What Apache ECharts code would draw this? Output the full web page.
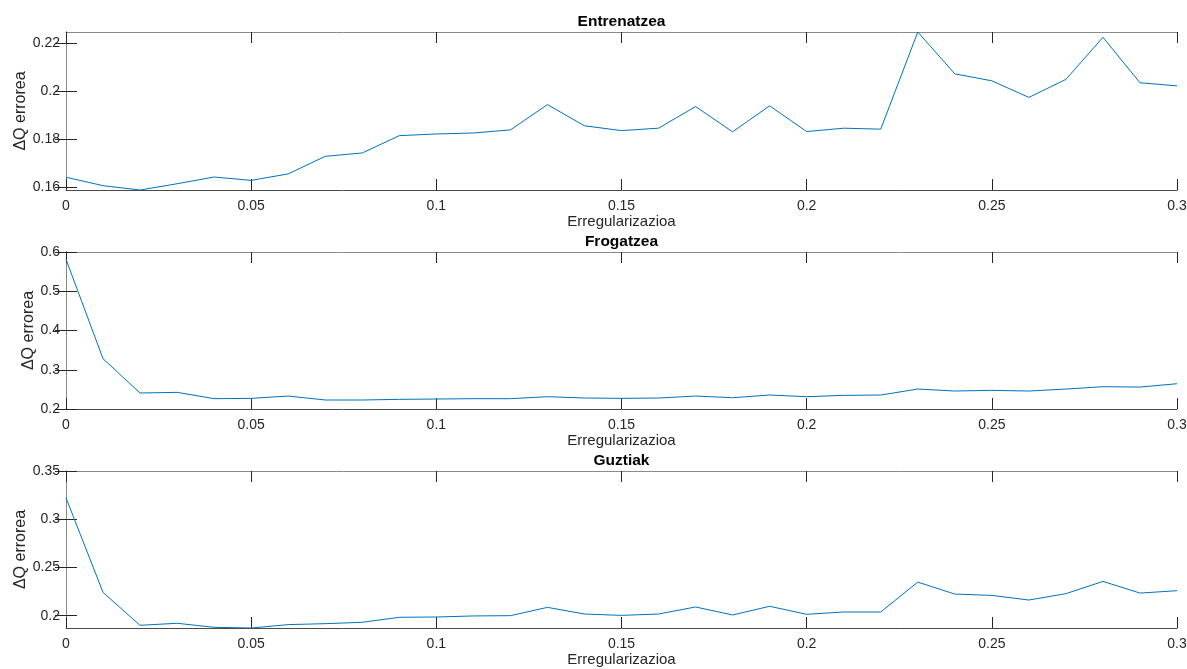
<!DOCTYPE html>
<html>
<head>
<meta charset="utf-8">
<script src="https://cdn.jsdelivr.net/npm/echarts@6/dist/echarts.min.js"></script>
<style>html,body{margin:0;padding:0;background:#fff}#c{width:1187px;height:669px}</style>
</head>
<body>
<div id="c"></div>
<script>
const xValues = [0,0.01,0.02,0.03,0.04,0.05,0.06,0.07,0.08,0.09,0.10,0.11,0.12,0.13,0.14,0.15,0.16,0.17,0.18,0.19,0.20,0.21,0.22,0.23,0.24,0.25,0.26,0.27,0.28,0.29,0.30];
const entrenatzea = [0.1642,0.1607,0.1589,0.1615,0.1643,0.1629,0.1656,0.1729,0.1743,0.1815,0.1822,0.1826,0.1839,0.1944,0.1856,0.1836,0.1846,0.1936,0.1831,0.1939,0.1832,0.1846,0.1842,0.2246,0.2072,0.2043,0.1974,0.2049,0.2224,0.2035,0.2022];
const frogatzea = [0.5814,0.328,0.2407,0.2424,0.2263,0.2271,0.233,0.2229,0.2229,0.2246,0.2254,0.2263,0.2263,0.2314,0.228,0.2271,0.228,0.233,0.2288,0.2356,0.2314,0.2347,0.2356,0.2508,0.2458,0.2475,0.2458,0.2508,0.2568,0.2559,0.2644];
const guztiak = [0.3221,0.2241,0.19,0.1921,0.1879,0.1872,0.1907,0.1917,0.1931,0.1983,0.1986,0.1997,0.2,0.2086,0.2017,0.2003,0.2017,0.209,0.2007,0.2097,0.2014,0.2038,0.2038,0.2348,0.2224,0.221,0.2162,0.2228,0.2355,0.2234,0.2259];
const xTicks = [0,0.05,0.1,0.15,0.2,0.25,0.3];
const yTicks1 = [0.16,0.18,0.2,0.22];
const yTicks2 = [0.2,0.3,0.4,0.5,0.6];
const yTicks3 = [0.2,0.25,0.3,0.35];
const titles = ['Entrenatzea','Frogatzea','Guztiak'];
const xName = 'Erregularizazioa';
const yName = 'ΔQ errorea';

const FONT = '"Liberation Sans", Arial, sans-serif';
const panels = [
  {data: entrenatzea, ticks: yTicks1, min: Math.min(...entrenatzea), max: Math.max(...entrenatzea), top: 32, h: 158, gap: 37, titleTop: 14},
  {data: frogatzea, ticks: yTicks2, min: 0.2, max: 0.6, top: 252, h: 157, gap: 29, titleTop: 234},
  {data: guztiak, ticks: yTicks3, min: Math.min(...guztiak), max: 0.35, top: 471, h: 157, gap: 37, titleTop: 453}
];
const mainLine = '#4a4a4a', boxLine = '#8a8a8a', tickCol = '#262626', txtCol = '#262626';
const grid = [], xAxis = [], yAxis = [], series = [], title = [];
panels.forEach((p, i) => {
  grid.push({left: 66, right: 10, top: p.top, height: p.h, containLabel: false, outerBoundsMode: 'none'});
  title.push({text: titles[i], left: 621.5, top: p.titleTop, textAlign: 'center', padding: 0,
    textStyle: {fontFamily: FONT, fontSize: 15.5, fontWeight: 'bold', color: '#000'}});
  const fmt = v => String(+v.toFixed(4));
  xAxis.push({type: 'value', gridIndex: i, min: 0, max: 0.3, position: 'bottom',
    name: xName, nameLocation: 'middle', nameGap: 24, nameMoveOverlap: false,
    nameTextStyle: {fontFamily: FONT, fontSize: 15, color: txtCol},
    axisLine: {lineStyle: {color: mainLine, width: 1}},
    axisTick: {inside: true, length: 11, lineStyle: {color: tickCol}, customValues: xTicks},
    axisLabel: {fontFamily: FONT, fontSize: 14, color: txtCol, margin: 9, customValues: xTicks, formatter: fmt},
    splitLine: {show: false}});
  xAxis.push({type: 'value', gridIndex: i, min: 0, max: 0.3, position: 'top',
    axisLine: {lineStyle: {color: boxLine, width: 1}},
    axisTick: {inside: true, length: 11, lineStyle: {color: tickCol}, customValues: xTicks},
    axisLabel: {show: false}, splitLine: {show: false}});
  yAxis.push({type: 'value', gridIndex: i, min: p.min, max: p.max, position: 'left',
    name: yName, nameLocation: 'middle', nameGap: p.gap, nameRotate: 90, nameMoveOverlap: false,
    nameTextStyle: {fontFamily: FONT, fontSize: 16, color: txtCol},
    axisLine: {show: true, lineStyle: {color: mainLine, width: 1}},
    axisTick: {show: true, inside: true, length: 11, lineStyle: {color: tickCol}, customValues: p.ticks},
    axisLabel: {fontFamily: FONT, fontSize: 14, color: txtCol, margin: 6, customValues: p.ticks, formatter: fmt},
    splitLine: {show: false}});
  yAxis.push({type: 'value', gridIndex: i, min: p.min, max: p.max, position: 'right',
    axisLine: {show: true, lineStyle: {color: boxLine, width: 1}},
    axisTick: {show: true, inside: true, length: 11, lineStyle: {color: tickCol}, customValues: p.ticks},
    axisLabel: {show: false}, splitLine: {show: false}});
  series.push({type: 'line', xAxisIndex: 2 * i, yAxisIndex: 2 * i, showSymbol: false, symbol: 'none',
    lineStyle: {color: '#0072BD', width: 1}, animation: false,
    data: xValues.map((x, k) => [x, p.data[k]])});
});
const chart = echarts.init(document.getElementById('c'), null, {renderer: 'canvas'});
chart.setOption({animation: false, backgroundColor: '#fff', title, grid, xAxis, yAxis, series});
</script>
</body>
</html>
